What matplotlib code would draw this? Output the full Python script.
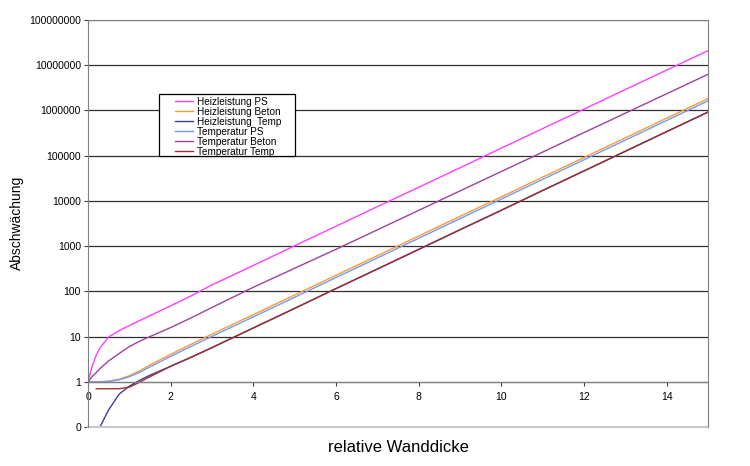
## Abschwaechung ueber relative Wanddicke (log scale, Excel look)
import numpy as np
import matplotlib
matplotlib.use('Agg')
import matplotlib.pyplot as plt
from matplotlib.patches import Rectangle
from matplotlib.ticker import NullLocator

plt.rcParams['font.family'] = ['Liberation Sans', 'DejaVu Sans']

## data
wanddicke = [0, 0.1, 0.2, 0.3, 0.5, 0.75, 1, 1.25, 1.5, 2, 2.5, 3, 4, 5, 6, 7,
             8, 9, 10, 11, 12, 13, 14, 15]
heiz_ps = [1, 2.2, 3.9, 5.8, 9.8, 13.5, 17.5, 22.5, 29, 48, 80, 139, 373, 1020,
           2750, 7450, 20000, 54000, 147000, 397000, 1070000, 2900000,
           7800000, 21000000]
heiz_beton = [1, 1, 1, 1.0, 1.03, 1.14, 1.36, 1.75, 2.35, 4.05, 6.8, 11.3,
              30.5, 83, 226, 614, 1670, 4540, 12300, 33500, 91000, 248000,
              673000, 1830000]
heiz_temp = [np.nan, np.nan, 0.06, 0.105, 0.24, 0.53, 0.8, 1.08, 1.4, 2.2, 3.5,
             5.7, 15.5, 42, 115, 311, 845, 2300, 6200, 17000, 46000, 125000,
             340000, 920000]
temp_ps = [1, 1, 1, 1.0, 1.02, 1.10, 1.29, 1.62, 2.13, 3.65, 6.1, 10.1, 27.3,
           74, 202, 548, 1490, 4050, 11000, 29900, 81400, 221000, 601000,
           1630000]
temp_beton = [1, 1.3, 1.6, 2.0, 2.9, 4.2, 6.0, 7.9, 10, 15.8, 26, 44, 123, 324,
              850, 2290, 6170, 16600, 44700, 120000, 324000, 870000, 2340000,
              6300000]
temp_temp = [np.nan, np.nan, 0.7, 0.7, 0.7, 0.7, 0.76, 0.98, 1.3, 2.2, 3.5,
             5.7, 15.5, 42, 115, 311, 845, 2300, 6200, 17000, 46000, 125000,
             340000, 920000]

namen = ['Heizleistung PS', 'Heizleistung Beton', 'Heizleistung  Temp',
         'Temperatur PS', 'Temperatur Beton', 'Temperatur Temp']
farben = ['#ff40ff', '#ff9933', '#3c3c9c', '#6e9cff', '#a040a0', '#a03030']
reihen = [heiz_ps, heiz_beton, heiz_temp, temp_ps, temp_beton, temp_temp]

ytick_werte = [0.1, 1, 10, 100, 1000, 10000, 100000, 1000000, 10000000,
               100000000]
ytick_namen = ['0', '1', '10', '100', '1000', '10000', '100000', '1000000',
               '10000000', '100000000']
xtick_werte = [0, 2, 4, 6, 8, 10, 12, 14]

fig = plt.figure(figsize=(7.5, 4.66), dpi=100)
ax = fig.add_axes([88 / 750, 1 - 427 / 466, 620 / 750, 407 / 466])

for werte, name, farbe in zip(reihen, namen, farben):
    ax.plot(wanddicke, werte, color=farbe, lw=1.0, label=name)

ax.set_yscale('log')
ax.set_ylim(0.1, 1e8)
ax.set_xlim(0, 15)
ax.set_yticks(ytick_werte)
ax.set_yticklabels(ytick_namen)
ax.yaxis.set_minor_locator(NullLocator())
ax.set_xticks(xtick_werte)
ax.set_xticklabels([str(v) for v in xtick_werte])
ax.xaxis.set_minor_locator(NullLocator())

## gridlines at every decade
ax.yaxis.grid(True, color='#303030', lw=0.9)
ax.set_axisbelow(True)

## x axis crosses at 1
ax.spines['bottom'].set_position(('data', 1))
for s in ['bottom', 'left', 'top', 'right']:
    ax.spines[s].set_color('#808080')
ax.plot([0, 1], [0, 0], transform=ax.transAxes, clip_on=False,
        color='#c8c8c8', lw=1.5)

ax.tick_params(axis='y', labelsize=7.5, length=3, width=0.8, pad=2,
               color='#404040')
ax.tick_params(axis='x', labelsize=7.5, length=3, width=0.8, pad=4,
               color='#404040')

## legend: Excel style box with wide side margins
ax.add_patch(Rectangle((0.1145, 0.6658), 0.2194, 0.1524, transform=ax.transAxes,
                       facecolor='white', edgecolor='black', lw=0.9,
                       zorder=4))
leg = ax.legend(loc='upper left', bbox_to_anchor=(0.1403, 0.812),
                fontsize=7.2, frameon=False, borderpad=0,
                labelspacing=0.0, handlelength=1.8, handletextpad=0.4,
                borderaxespad=0)
leg.set_zorder(5)

fig.text(17 / 750, 1 - 223 / 466, 'Abschwächung', rotation=90,
         ha='center', va='center', fontsize=10)
fig.text(398 / 750, 1 - 447 / 466, 'relative Wanddicke', ha='center',
         va='center', fontsize=12)

fig.savefig('out.png', dpi=100)
